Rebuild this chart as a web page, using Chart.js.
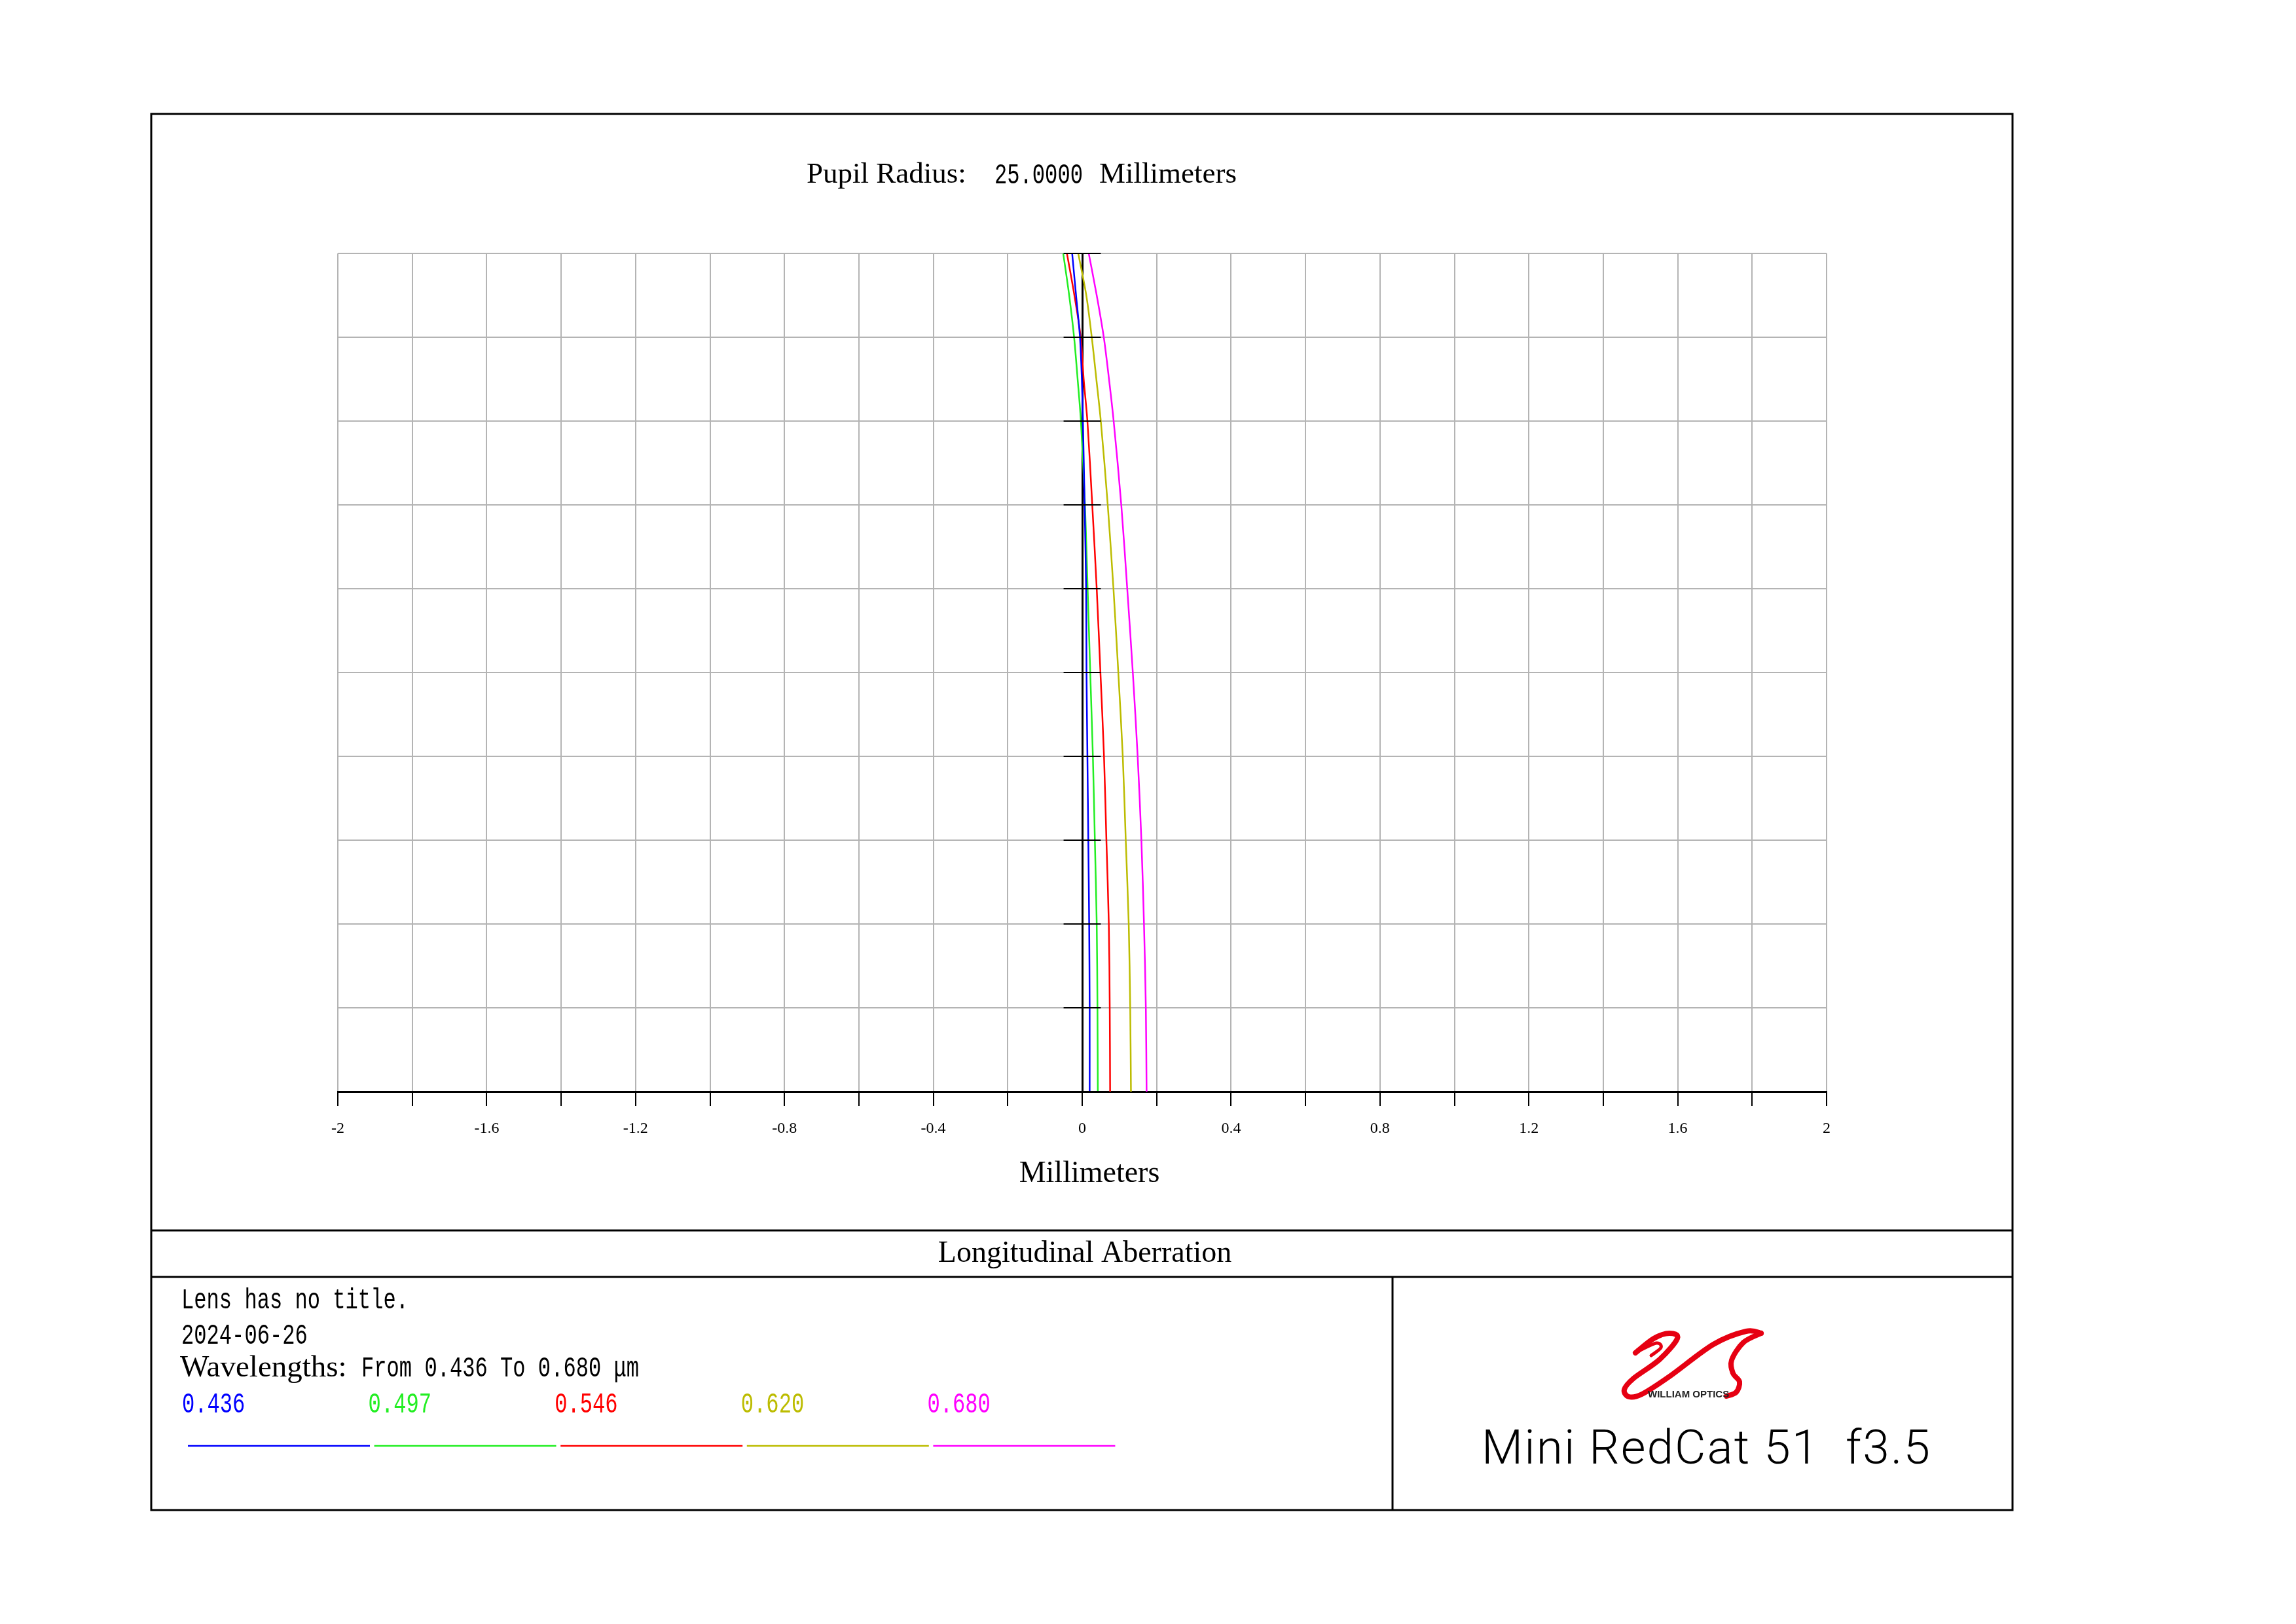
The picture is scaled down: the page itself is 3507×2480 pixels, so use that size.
<!DOCTYPE html>
<html>
<head>
<meta charset="utf-8">
<script src="https://cdn.jsdelivr.net/npm/chart.js@4.4.0/dist/chart.umd.min.js"></script>
<style>
  html, body { margin: 0; padding: 0; background: #fff; }
  canvas { display: block; }
</style>
</head>
<body>
<canvas id="chart" width="3507" height="2480"></canvas>
<script>
// relative pupil height (y) and longitudinal focus shift in mm (x)
const pupil = [0, 0.1, 0.2, 0.3, 0.4, 0.5, 0.6, 0.7, 0.8, 0.85, 0.9, 0.95, 1.0];
const w436 = [0.020, 0.020, 0.0187, 0.0164, 0.014, 0.0116, 0.0105, 0.0065, 0.002, -0.001, -0.006, -0.0165, -0.027];
const w497 = [0.042, 0.041, 0.039, 0.034, 0.0287, 0.0216, 0.0146, 0.0075, -0.0035, -0.0123, -0.0218, -0.035, -0.051];
const w546 = [0.075, 0.074, 0.0715, 0.065, 0.0586, 0.049, 0.039, 0.027, 0.014, 0.004, -0.004, -0.021, -0.041];
const w620 = [0.131, 0.129, 0.125, 0.117, 0.109, 0.097, 0.084, 0.0686, 0.050, 0.038, 0.0257, 0.011, -0.0106];
const w680 = [0.173, 0.171, 0.166, 0.159, 0.149, 0.136, 0.121, 0.105, 0.0845, 0.072, 0.058, 0.039, 0.0176];

const wavelengths = ["0.436", "0.497", "0.546", "0.620", "0.680"];
const seriesList = [w436, w497, w546, w620, w680];
const colors = ["#0000ff", "#22ee22", "#ff0000", "#bcbc00", "#ff00ff"];

const SERIF = '"Liberation Serif", "Times New Roman", serif';
const MONO = '"Liberation Mono", monospace';

// condensed mono text, roughly like the SimSun text of the original
function monoText(ctx, text, x, y, size, color) {
  ctx.save();
  ctx.font = size + "px " + MONO;
  ctx.fillStyle = color;
  ctx.textAlign = "left";
  ctx.textBaseline = "alphabetic";
  ctx.translate(x, y);
  ctx.scale(0.73, 1);
  ctx.fillText(text, 0, 0);
  ctx.restore();
}

function serifText(ctx, text, x, y, size, align) {
  ctx.save();
  ctx.font = size + "px " + SERIF;
  ctx.fillStyle = "#000";
  ctx.textAlign = align || "left";
  ctx.textBaseline = "alphabetic";
  ctx.fillText(text, x, y);
  ctx.restore();
}

function line(ctx, x1, y1, x2, y2, w, color) {
  ctx.beginPath();
  ctx.moveTo(x1, y1);
  ctx.lineTo(x2, y2);
  ctx.lineWidth = w;
  ctx.strokeStyle = color;
  ctx.stroke();
}

// smooth curve through points (catmull-rom)
function smooth(ctx, pts) {
  ctx.moveTo(pts[0][0], pts[0][1]);
  for (let i = 0; i < pts.length - 1; i++) {
    const p0 = pts[Math.max(i - 1, 0)], p1 = pts[i], p2 = pts[i + 1], p3 = pts[Math.min(i + 2, pts.length - 1)];
    ctx.bezierCurveTo(
      p1[0] + (p2[0] - p0[0]) / 6, p1[1] + (p2[1] - p0[1]) / 6,
      p2[0] - (p3[0] - p1[0]) / 6, p2[1] - (p3[1] - p1[1]) / 6,
      p2[0], p2[1]);
  }
}

function drawLogo(ctx) {
  ctx.save();
  ctx.strokeStyle = "#e60012";
  ctx.lineCap = "round";
  ctx.lineJoin = "round";
  ctx.lineWidth = 8;
  ctx.beginPath();
  smooth(ctx, [[2498, 2066], [2526, 2044], [2550, 2036], [2562, 2044], [2535, 2076], [2495, 2105],
    [2481, 2122], [2488, 2133], [2508, 2129], [2550, 2102], [2617, 2053], [2667, 2033], [2690, 2036]]);
  ctx.stroke();
  ctx.beginPath();
  smooth(ctx, [[2690, 2036], [2663, 2050], [2645, 2077], [2647, 2097], [2657, 2110], [2652, 2126], [2637, 2132]]);
  ctx.stroke();
  ctx.lineWidth = 5;
  ctx.beginPath();
  smooth(ctx, [[2503, 2063], [2530, 2051], [2537, 2058], [2522, 2070]]);
  ctx.stroke();
  ctx.font = "bold 15px \"Liberation Sans\", Arial, sans-serif";
  ctx.fillStyle = "#222";
  ctx.textBaseline = "alphabetic";
  ctx.fillText("WILLIAM OPTICS", 2517, 2134);
  ctx.restore();
}

const sheet = {
  id: "sheet",
  afterDraw(chart) {
    const ctx = chart.ctx;
    const xs = chart.scales.x, ys = chart.scales.y;
    ctx.save();

    // short ticks on the vertical axis at x = 0
    const tl = xs.getPixelForValue(-0.05), tr = xs.getPixelForValue(0.05);
    for (let i = 0; i <= 10; i++) {
      const y = ys.getPixelForValue(i / 10);
      line(ctx, tl, y, tr, y, 2, "#000");
    }

    // frame
    ctx.lineWidth = 3;
    ctx.strokeStyle = "#000";
    ctx.strokeRect(231, 174, 3074 - 231, 2306 - 174);
    line(ctx, 231, 1879, 3074, 1879, 3, "#000");
    line(ctx, 231, 1950, 3074, 1950, 3, "#000");
    line(ctx, 2127, 1950, 2127, 2306, 3, "#000");

    // title line
    serifText(ctx, "Pupil Radius:", 1232, 279, 45);
    monoText(ctx, "25.0000", 1519, 280, 44, "#000");
    serifText(ctx, "Millimeters", 1679, 279, 45);

    // axis title
    serifText(ctx, "Millimeters", 1664, 1805, 46, "center");

    // panel title
    serifText(ctx, "Longitudinal Aberration", 1657, 1927, 46, "center");

    // info block
    monoText(ctx, "Lens has no title.", 277, 1998, 44, "#000");
    monoText(ctx, "2024-06-26", 277, 2052, 44, "#000");
    serifText(ctx, "Wavelengths:", 275, 2102, 47);
    monoText(ctx, "From 0.436 To 0.680 \u03bcm", 552, 2102, 44, "#000");

    // wavelength legend
    for (let i = 0; i < wavelengths.length; i++) {
      const x = 278 + i * 284.6;
      monoText(ctx, wavelengths[i], x, 2157, 44, colors[i]);
      line(ctx, x + 9, 2208, x + 287, 2208, 2.5, colors[i]);
    }

    // logo + product name
    drawLogo(ctx);
    ctx.font = "300 73px Roboto, sans-serif";
    ctx.fillStyle = "#000";
    const name = "Mini RedCat 51  f3.5";
    const w0 = ctx.measureText(name).width;
    ctx.letterSpacing = ((2948 - 2263 - w0) / (name.length - 1)).toFixed(2) + "px";
    ctx.textAlign = "left";
    ctx.fillText(name, 2263, 2235);
    ctx.letterSpacing = "0px";

    ctx.restore();
  }
};

const datasets = seriesList.map((vals, i) => ({
  label: wavelengths[i],
  data: vals.map((v, k) => ({ x: v, y: pupil[k] })),
  showLine: true,
  borderColor: colors[i],
  backgroundColor: colors[i],
  borderWidth: 2.5,
  pointRadius: 0,
  tension: 0.3,
  fill: false
}));

new Chart(document.getElementById("chart"), {
  type: "scatter",
  data: { datasets },
  options: {
    responsive: false,
    animation: false,
    devicePixelRatio: 1,
    layout: { padding: { left: 516, right: 717, top: 387, bottom: 733 } },
    plugins: { legend: { display: false }, tooltip: { enabled: false } },
    scales: {
      x: {
        type: "linear",
        position: "bottom",
        min: -2,
        max: 2,
        afterFit: (s) => { s.height = 80; },
        ticks: {
          stepSize: 0.2,
          autoSkip: false,
          maxRotation: 0,
          padding: 20,
          color: "#000",
          font: { family: SERIF, size: 24 },
          callback: (v) => {
            const r = Math.round(v * 10) / 10;
            return Math.abs(Math.round(r * 10)) % 4 === 0 ? String(r) : "";
          }
        },
        grid: { color: "#b4b4b4", lineWidth: 2, tickColor: "#000", tickLength: 22, tickWidth: 2 },
        border: { display: true, color: "#000", width: 3 }
      },
      y: {
        type: "linear",
        position: { x: 0 },
        min: 0,
        max: 1,
        ticks: { stepSize: 0.1, display: false },
        grid: { color: "#b4b4b4", lineWidth: 2, drawTicks: false },
        border: { display: true, color: "#000", width: 3 }
      }
    }
  },
  plugins: [sheet]
});
</script>
</body>
</html>
